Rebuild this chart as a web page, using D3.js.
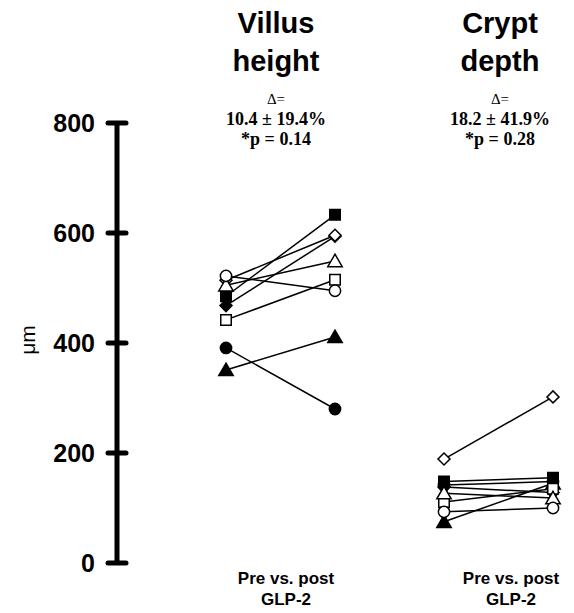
<!DOCTYPE html>
<html>
<head>
<meta charset="utf-8">
<script src="https://cdn.jsdelivr.net/npm/d3@7"></script>
<style>
  body { margin: 0; background: #fff; }
</style>
</head>
<body>
<div id="chart"></div>
<script>
// positions on the x axis: pre / post for each measure
var columns = ["villusPre", "villusPost", "cryptPre", "cryptPost"];

// one entry per subject: marker shape and fill
var subjectShapes = ["circle", "triangle", "diamond", "square", "diamond", "square", "circle", "triangle"];
var subjectFilled = [false, false, false, true, true, false, true, true];
// drawing order (later = on top)
var drawOrder = [3, 4, 6, 7, 2, 5, 1, 0];

// values in micrometres
var villusPre  = [522, 505, 514, 485, 468, 442, 391, 351];
var villusPost = [495, 549, 596, 633, 594, 515, 280, 411];
var cryptPre   = [93, 127, 189, 148, 138, 111, 142, 75];
var cryptPost  = [100, 118, 302, 155, 128, 135, 148, 145];

var yTicks = [0, 200, 400, 600, 800];

var panels = [
  { title: ["Villus", "height"], stats: ["\u0394=", "10.4 \u00b1 19.4%", "*p = 0.14"],
    pre: villusPre, post: villusPost, cols: ["villusPre", "villusPost"], cx: 276, lx: 286 },
  { title: ["Crypt", "depth"], stats: ["\u0394=", "18.2 \u00b1 41.9%", "*p = 0.28"],
    pre: cryptPre, post: cryptPost, cols: ["cryptPre", "cryptPost"], cx: 500, lx: 511 }
];

var width = 574, height = 613;

var svg = d3.select("#chart")
  .append("svg")
  .attr("width", width)
  .attr("height", height);

var x = d3.scalePoint()
  .domain(columns)
  .range([226, 553]);

var y = d3.scaleLinear()
  .domain([0, 800])
  .range([563, 123]);

// y axis: thick line with short ticks
var axisX = 117;
var axis = svg.append("g");
axis.append("line")
  .attr("x1", axisX).attr("x2", axisX)
  .attr("y1", y(800)).attr("y2", y(0))
  .attr("stroke", "#000").attr("stroke-width", 5);
axis.selectAll(".tick")
  .data(yTicks)
  .enter().append("line")
  .attr("x1", axisX - 9).attr("x2", axisX + 9)
  .attr("y1", function (d) { return y(d); })
  .attr("y2", function (d) { return y(d); })
  .attr("stroke", "#000").attr("stroke-width", 5)
  .attr("stroke-linecap", "round");
axis.selectAll(".lbl")
  .data(yTicks)
  .enter().append("text")
  .attr("x", 95)
  .attr("y", function (d) { return y(d) + 9; })
  .attr("text-anchor", "end")
  .style("font-family", "'Liberation Sans', Arial, sans-serif")
  .style("font-weight", "bold")
  .style("font-size", "25px")
  .text(function (d) { return d; });

svg.append("text")
  .attr("transform", "translate(35,340) rotate(-90)")
  .attr("text-anchor", "middle")
  .style("font-family", "'Liberation Sans', Arial, sans-serif")
  .style("font-size", "21px")
  .text("\u03bcm");

var symbolType = {
  circle: d3.symbolCircle,
  square: d3.symbolSquare,
  triangle: d3.symbolTriangle,
  diamond: d3.symbolSquare
};
var symbolSize = { circle: 100, square: 110, triangle: 90, diamond: 72 };

panels.forEach(function (p) {
  // titles
  svg.selectAll(null)
    .data(p.title)
    .enter().append("text")
    .attr("x", p.cx)
    .attr("y", function (d, i) { return 33 + i * 38; })
    .attr("text-anchor", "middle")
    .style("font-family", "'Liberation Sans', Arial, sans-serif")
    .style("font-weight", "bold")
    .style("font-size", "29px")
    .text(function (d) { return d; });

  svg.selectAll(null)
    .data(p.stats)
    .enter().append("text")
    .attr("x", p.cx)
    .attr("y", function (d, i) { return 104 + i * 20.5; })
    .attr("text-anchor", "middle")
    .style("font-family", "'Liberation Serif', 'Times New Roman', serif")
    .style("font-weight", function (d, i) { return i === 0 ? "normal" : "bold"; })
    .style("font-size", function (d, i) { return i === 0 ? "15px" : "18px"; })
    .text(function (d) { return d; });

  svg.selectAll(null)
    .data(["Pre vs. post", "GLP-2"])
    .enter().append("text")
    .attr("x", p.lx)
    .attr("y", function (d, i) { return 584 + i * 21; })
    .attr("text-anchor", "middle")
    .style("font-family", "'Liberation Sans', Arial, sans-serif")
    .style("font-weight", "bold")
    .style("font-size", "17px")
    .text(function (d) { return d; });

  var subjects = p.pre.map(function (v, i) {
    return { pre: v, post: p.post[i], shape: subjectShapes[i], filled: subjectFilled[i] };
  });

  // connecting lines
  svg.append("g").selectAll("line")
    .data(subjects)
    .enter().append("line")
    .attr("x1", x(p.cols[0])).attr("x2", x(p.cols[1]))
    .attr("y1", function (d) { return y(d.pre); })
    .attr("y2", function (d) { return y(d.post); })
    .attr("stroke", "#000")
    .attr("stroke-width", 1.5);

  // markers
  var pts = [];
  drawOrder.forEach(function (i) {
    var d = subjects[i];
    pts.push({ col: p.cols[0], v: d.pre, shape: d.shape, filled: d.filled });
    pts.push({ col: p.cols[1], v: d.post, shape: d.shape, filled: d.filled });
  });
  svg.append("g").selectAll("path")
    .data(pts)
    .enter().append("path")
    .attr("transform", function (d) {
      var dy = d.shape === "triangle" ? 1.5 : 0;
      var rot = d.shape === "diamond" ? " rotate(45)" : "";
      return "translate(" + x(d.col) + "," + (y(d.v) + dy) + ")" + rot;
    })
    .attr("d", function (d) {
      return d3.symbol().type(symbolType[d.shape]).size(symbolSize[d.shape])();
    })
    .attr("fill", function (d) { return d.filled ? "#000" : "#fff"; })
    .attr("stroke", "#000")
    .attr("stroke-width", 1.5);
});
</script>
</body>
</html>
